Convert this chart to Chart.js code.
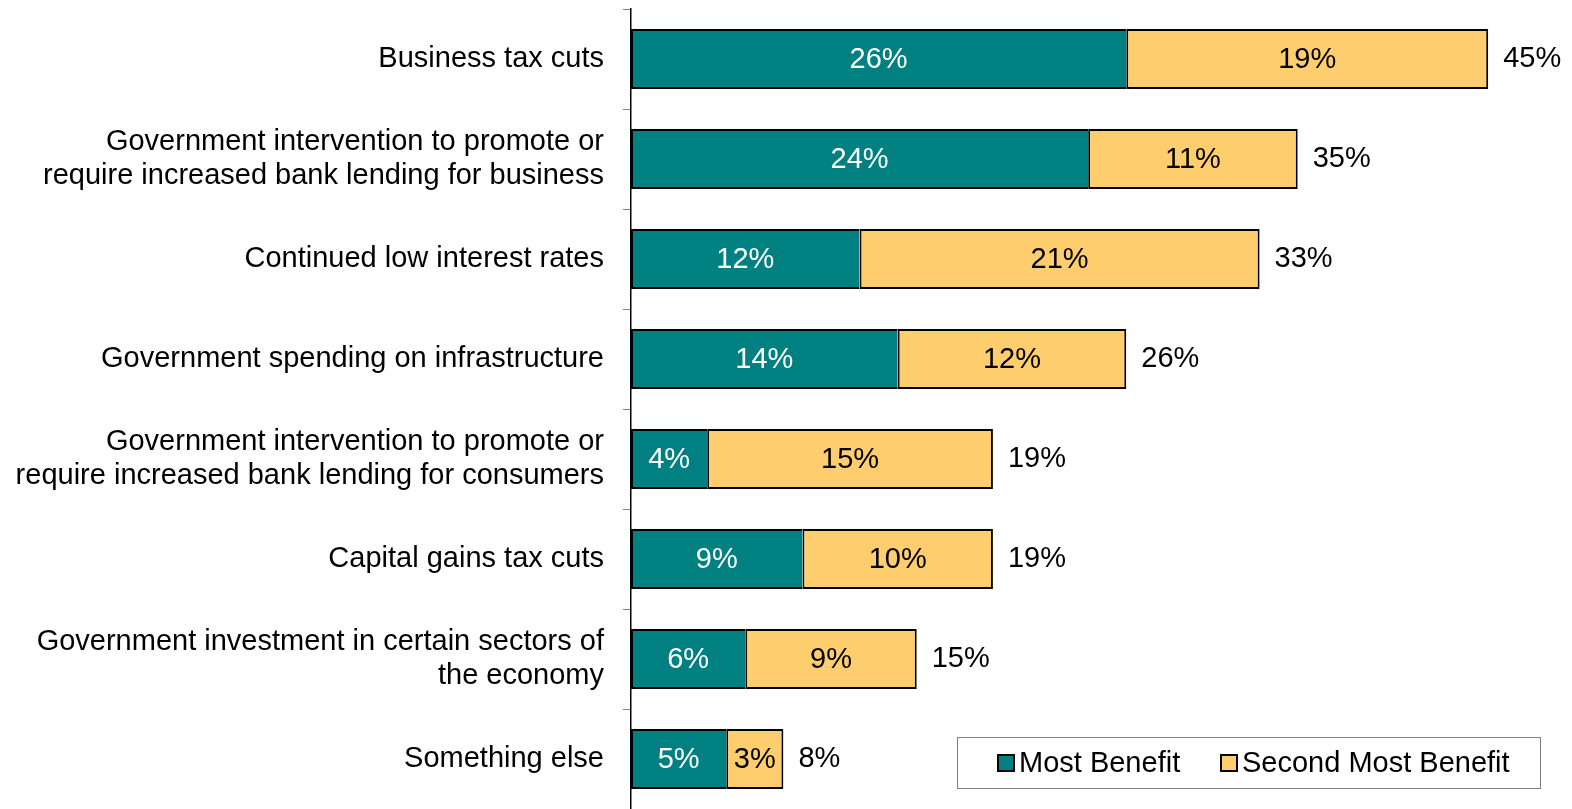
<!DOCTYPE html>
<html>
<head>
<meta charset="utf-8">
<script src="https://cdn.jsdelivr.net/npm/chart.js@4/dist/chart.umd.min.js"></script>
<style>
  html, body { margin: 0; padding: 0; background: #fff; }
  canvas { display: block; }
</style>
</head>
<body>
<canvas id="chart" width="1572" height="809"></canvas>
<script>
// Policy options and the share picking each as most / second most benefit
const categories = [
  "Business tax cuts",
  ["Government intervention to promote or", "require increased bank lending for business"],
  "Continued low interest rates",
  "Government spending on infrastructure",
  ["Government intervention to promote or", "require increased bank lending for consumers"],
  "Capital gains tax cuts",
  ["Government investment in certain sectors of", "the economy"],
  "Something else",
];
const mostBenefit = [26, 24, 12, 14, 4, 9, 6, 5];
const secondMostBenefit = [19, 11, 21, 12, 15, 10, 9, 3];
const seriesNames = ["Most Benefit", "Second Most Benefit"];

const TEAL = "#008080";
const YELLOW = "#FECD6E";
const FONT = "Liberation Sans, Arial, sans-serif";

// Percent labels inside each segment, plus the total at the end of each bar
const barLabels = {
  id: "barLabels",
  afterDatasetsDraw(chart) {
    const ctx = chart.ctx;
    ctx.save();
    ctx.font = "29px " + FONT;
    ctx.textBaseline = "middle";
    chart.data.datasets.forEach((ds, di) => {
      const meta = chart.getDatasetMeta(di);
      meta.data.forEach((bar, i) => {
        const p = bar.getProps(["x", "y", "base"], true);
        ctx.fillStyle = di === 0 ? "#fff" : "#000";
        ctx.textAlign = "center";
        ctx.fillText(ds.data[i] + "%", (p.x + p.base) / 2, p.y + 1);
      });
    });
    const last = chart.getDatasetMeta(1);
    last.data.forEach((bar, i) => {
      const p = bar.getProps(["x", "y"], true);
      const total = mostBenefit[i] + secondMostBenefit[i];
      ctx.fillStyle = "#000";
      ctx.textAlign = "left";
      ctx.fillText(total + "%", p.x + 15, p.y);
    });
    ctx.restore();
  },
};

// Boxed legend in the lower right corner
const boxLegend = {
  id: "boxLegend",
  afterDraw(chart) {
    const ctx = chart.ctx;
    const x = 957, y = 737, w = 583, h = 51;
    ctx.save();
    ctx.fillStyle = "#fff";
    ctx.fillRect(x, y, w, h);
    ctx.strokeStyle = "#7f7f7f";
    ctx.lineWidth = 1;
    ctx.strokeRect(x + 0.5, y + 0.5, w, h);
    ctx.font = "29px " + FONT;
    ctx.textBaseline = "middle";
    ctx.textAlign = "left";
    const items = [
      { color: TEAL, sx: 998, tx: 1019 },
      { color: YELLOW, sx: 1221, tx: 1242 },
    ];
    items.forEach((it, i) => {
      ctx.fillStyle = it.color;
      ctx.fillRect(it.sx, 755, 16, 16);
      ctx.strokeStyle = "#000";
      ctx.lineWidth = 2;
      ctx.strokeRect(it.sx, 755, 16, 16);
      ctx.fillStyle = "#000";
      ctx.fillText(seriesNames[i], it.tx, 764);
    });
    ctx.restore();
  },
};

new Chart(document.getElementById("chart"), {
  type: "bar",
  data: {
    labels: categories,
    datasets: [
      {
        label: seriesNames[0],
        data: mostBenefit,
        backgroundColor: TEAL,
        borderColor: "#000",
        borderWidth: { top: 2, bottom: 2, left: 2, right: 0 },
        borderSkipped: false,
      },
      {
        label: seriesNames[1],
        data: secondMostBenefit,
        backgroundColor: YELLOW,
        borderColor: "#000",
        borderWidth: 2,
        borderSkipped: false,
      },
    ],
  },
  options: {
    indexAxis: "y",
    responsive: false,
    animation: false,
    categoryPercentage: 1,
    barPercentage: 0.6,
    layout: { padding: { top: 9, right: 0, bottom: 0, left: 0 } },
    plugins: {
      legend: { display: false },
      tooltip: { enabled: false },
    },
    scales: {
      x: {
        stacked: true,
        display: false,
        min: 0,
        max: 49.4,
      },
      y: {
        stacked: true,
        afterFit: (scale) => {
          // fixed label column; no extra room for the outer labels
          scale.width = 631;
          scale.paddingTop = 0;
          scale.paddingBottom = 0;
        },
        border: { color: "#000", width: 1.5 },
        grid: {
          drawOnChartArea: false,
          tickLength: 8,
          color: "#808080",
          offset: true,
        },
        ticks: {
          color: "#000",
          padding: 19,
          font: { family: FONT, size: 29, lineHeight: 1.17 },
        },
      },
    },
  },
  plugins: [barLabels, boxLegend],
});
</script>
</body>
</html>
